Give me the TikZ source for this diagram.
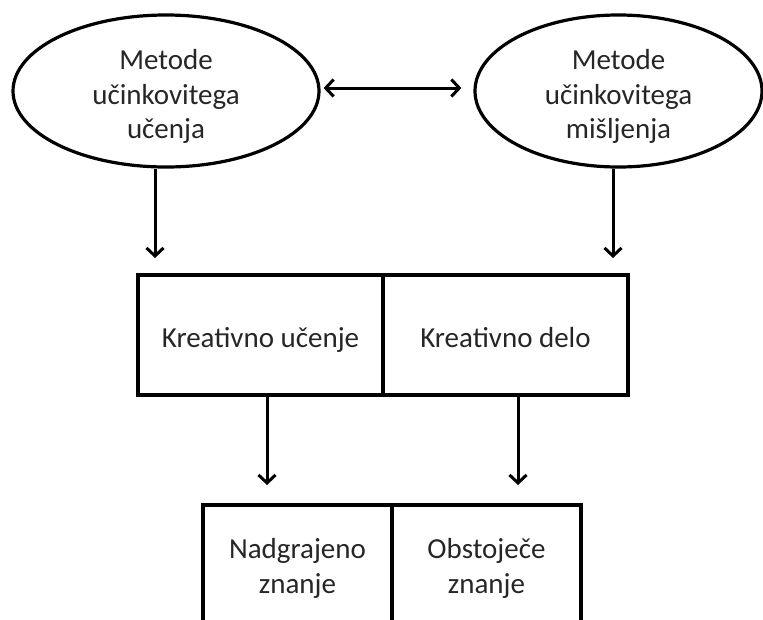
\documentclass[tikz,border=0pt]{standalone}
\usepackage{fontspec}
\setmainfont{Carlito}
\usetikzlibrary{shapes.geometric,arrows.meta}

\tikzset{
  ell/.style={draw, ellipse, line width=3.2pt, inner sep=0pt},
  cell/.style={draw, rectangle, line width=3.2pt, inner sep=0pt},
  txt/.style={align=center, inner sep=0pt, text=black!85, font=\fontsize{29}{34.5}\selectfont},
  arr/.style={line width=3pt, -{Straight Barb[length=8pt,width=17pt,line width=3pt]}},
  darr/.style={line width=3pt, {Straight Barb[length=8pt,width=17pt,line width=3pt]}-{Straight Barb[length=8pt,width=17pt,line width=3pt]}}
}

\begin{document}
\begin{tikzpicture}[x=1pt, y=-1pt]
  \useasboundingbox (0,0) rectangle (763,619);
  \clip (0,0) rectangle (763,619);

  % the two method ellipses
  \node[ell, minimum width=306pt, minimum height=152pt] (lel) at (166,91) {};
  \node[ell, minimum width=287pt, minimum height=152pt] (rel) at (618.5,91) {};
  \node[txt] (leltxt) at (166,96.5) {Metode\\učinkovitega\\učenja};
  \node[txt] (reltxt) at (618.5,96.5) {Metode\\učinkovitega\\mišljenja};

  % upper split box
  \node[cell, minimum width=245pt, minimum height=120pt] (ul) at (260.5,335) {};
  \node[cell, minimum width=245pt, minimum height=120pt] (ur) at (505.5,335) {};
  \node[txt, anchor=base] (ultxt) at (260.5,347) {Kreativno učenje};
  \node[txt, anchor=base] (urtxt) at (505.5,347) {Kreativno delo};

  % lower split box, running past the bottom edge
  \node[cell, minimum width=189pt, minimum height=150pt] (ll) at (297.5,580) {};
  \node[cell, minimum width=189pt, minimum height=150pt] (lr) at (486.5,580) {};
  \node[txt, anchor=base] (lltxt) at (297.5,593) {Nadgrajeno\\znanje};
  \node[txt, anchor=base] (lrtxt) at (486.5,593) {Obstoječe\\znanje};

  % arrow end points
  \coordinate (a1) at (155,258);
  \coordinate (a2) at (613,258);
  \coordinate (a3) at (267,485);
  \coordinate (a4) at (518,485);

  % connectors
  \draw[darr] ([xshift=3pt,yshift=3pt]lel.east) -- ([xshift=-12pt,yshift=3pt]rel.west);
  \draw[arr] (lel.south -| a1) -- (a1);
  \draw[arr] (rel.south -| a2) -- (a2);
  \draw[arr] (ul.south -| a3) -- (a3);
  \draw[arr] (ur.south -| a4) -- (a4);
\end{tikzpicture}
\end{document}
